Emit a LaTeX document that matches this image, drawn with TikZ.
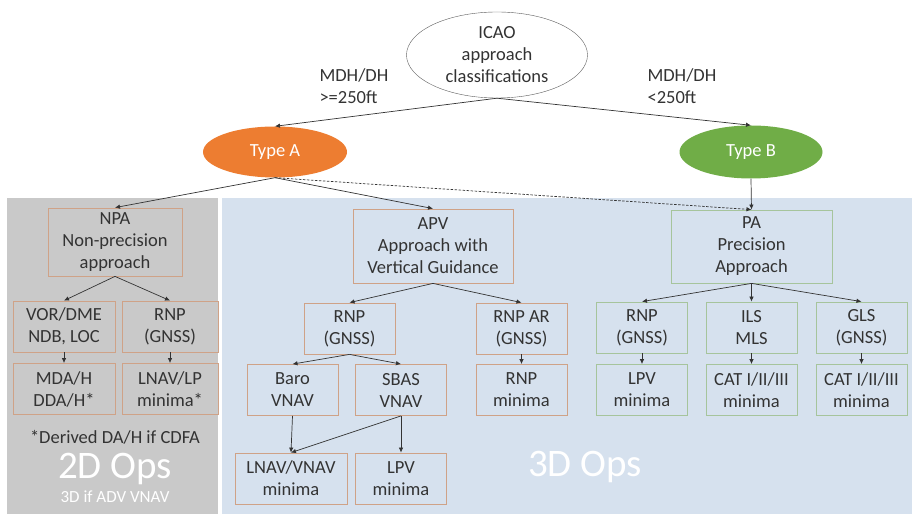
\documentclass[tikz,border=0pt]{standalone}
\usepackage{fontspec}
\setmainfont{Carlito}
\usepackage{tikz}
\usetikzlibrary{arrows.meta,shapes.geometric}
\definecolor{typeorange}{HTML}{ED7D31}
\definecolor{typegreen}{HTML}{70AD47}
\definecolor{panelgray}{HTML}{C9C9C9}
\definecolor{panelblue}{HTML}{D6E1EE}
\definecolor{edgetan}{HTML}{CFA287}
\definecolor{edgegreen}{HTML}{A6C49C}
\definecolor{inkgray}{HTML}{333333}

\begin{document}
\begin{tikzpicture}[x=1pt,y=-1pt,
    every node/.style={text=inkgray,font=\fontsize{18.5}{22}\selectfont},
    oval/.style={ellipse,inner sep=0pt},
    npabox/.style={draw=edgetan,line width=0.8pt,align=center,inner sep=0pt,
      minimum width=91pt,minimum height=51pt},
    pabox/.style={npabox,draw=edgegreen},
    link/.style={draw=inkgray,line width=0.7pt,-{Latex[length=5pt,width=4.5pt]}}]
  \useasboundingbox (0,0) rectangle (914,518);
  \fill[panelgray] (7,198) rectangle (218,514);
  \fill[panelblue] (222,198) rectangle (912,514);

  \node[oval,draw=inkgray!80,fill=white,minimum width=181pt,minimum height=86pt,align=center]
    (icao) at (497,55) {ICAO\\approach\\classifications};
  \node[oval,fill=typeorange,minimum width=144pt,minimum height=51pt,text=white]
    (typea) at (275,152) {Type A};
  \node[oval,fill=typegreen,minimum width=143pt,minimum height=53pt,text=white]
    (typeb) at (751,152) {Type B};
  \node[anchor=west,align=left] (limita) at (316,86) {MDH/DH\\>=250ft};
  \node[anchor=west,align=left] (limitb) at (644,86) {MDH/DH\\<250ft};

  % 2D side
  \node[npabox,minimum width=134pt,minimum height=68pt] (npa) at (115,242)
    {NPA\\Non-precision\\approach};
  \node[npabox,minimum width=102pt] (vor) at (64,326.5) {VOR/DME\\NDB, LOC};
  \node[npabox,minimum width=96pt] (rnpa) at (170,326.5) {RNP\\(GNSS)};
  \node[npabox,minimum width=102pt] (mda) at (64,389) {MDA/H\\DDA/H*};
  \node[npabox,minimum width=96pt] (lnavlp) at (170,389) {LNAV/LP\\minima*};
  \node (cdfa) at (115,437) {*Derived DA/H if CDFA};
  \node[text=white,font=\fontsize{39}{39}\selectfont] (ops2d) at (115,469) {2D Ops};
  \node[text=white,font=\fontsize{17}{17}\selectfont] (advvnav) at (115,497) {3D if ADV VNAV};

  % APV
  \node[npabox,minimum width=160pt,minimum height=74pt] (apv) at (433,246)
    {APV\\Approach with\\Vertical Guidance};
  \node[npabox] (rnpb) at (349.5,328.5) {RNP\\(GNSS)};
  \node[npabox] (rnpar) at (521.5,328.5) {RNP AR\\(GNSS)};
  \node[npabox] (baro) at (292.5,390) {Baro\\VNAV};
  \node[npabox] (sbas) at (401,390) {SBAS\\VNAV};
  \node[npabox] (rnpmin) at (521.5,390) {RNP\\minima};
  \node[npabox,minimum width=112pt] (lnavvnav) at (291,478.5) {LNAV/VNAV\\minima};
  \node[npabox] (lpva) at (401,478.5) {LPV\\minima};
  \node[text=white,font=\fontsize{39}{39}\selectfont] (ops3d) at (585,467) {3D Ops};

  % PA
  \node[pabox,minimum width=161pt,minimum height=73pt] (pa) at (751.5,246.5)
    {PA\\Precision\\Approach};
  \node[pabox] (rnpc) at (642,327.5) {RNP\\(GNSS)};
  \node[pabox] (ils) at (751.5,327.5) {ILS\\MLS};
  \node[pabox] (gls) at (861.5,327.5) {GLS\\(GNSS)};
  \node[pabox] (lpvb) at (642,390) {LPV\\minima};
  \node[pabox] (catb) at (751.5,390) {CAT I/II/III\\minima};
  \node[pabox] (catc) at (861.5,390) {CAT I/II/III\\minima};

  \draw[link] (icao.south) -- (typea.north);
  \draw[link] (icao.south) -- (typeb.north);
  \draw[link] (typea.south) -- (npa.north);
  \draw[link] (typea.south) -- (apv.north);
  \draw[link,dash pattern=on 2.5pt off 1.5pt] (typea.south) -- (pa.north);
  \draw[link] (typeb.south) -- (pa.north);
  \draw[link] (npa.south) -- (vor.north);
  \draw[link] (npa.south) -- (rnpa.north);
  \draw[link] (vor) -- (mda);
  \draw[link] (rnpa) -- (lnavlp);
  \draw[link] (apv.south) -- (rnpb.north);
  \draw[link] (apv.south) -- (rnpar.north);
  \draw[link] (rnpb.south) -- (baro.north);
  \draw[link] (rnpb.south) -- (sbas.north);
  \draw[link] (rnpar) -- (rnpmin);
  \draw[link] (baro.south) -- (lnavvnav.north);
  \draw[link] (sbas.south) -- (lnavvnav.north);
  \draw[link] (sbas) -- (lpva);
  \draw[link] (pa.south) -- (rnpc.north);
  \draw[link] (pa.south) -- (ils.north);
  \draw[link] (pa.south) -- (gls.north);
  \draw[link] (rnpc) -- (lpvb);
  \draw[link] (ils) -- (catb);
  \draw[link] (gls) -- (catc);
\end{tikzpicture}
\end{document}
